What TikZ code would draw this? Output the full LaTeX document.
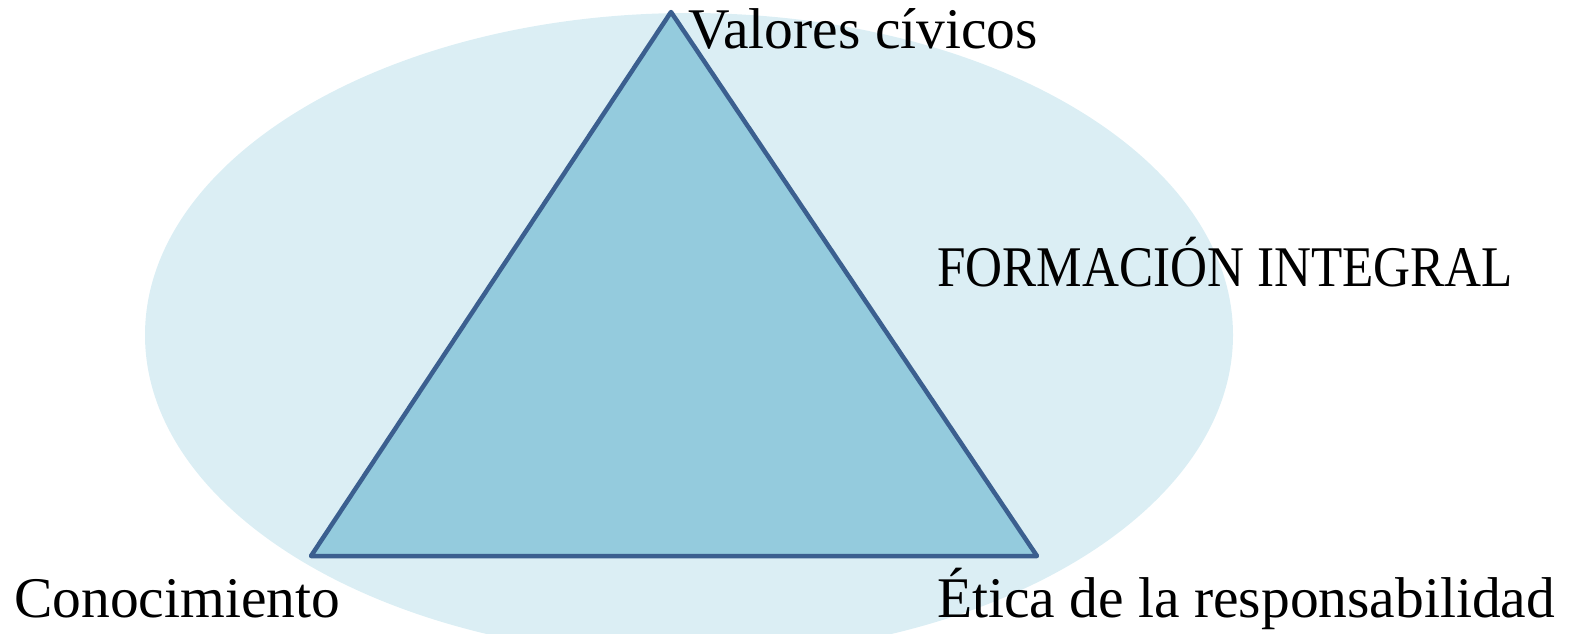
\documentclass[tikz,border=0pt]{standalone}
\usepackage{fontspec}
\setmainfont{Liberation Serif}
\usepackage{graphicx}
\usepackage{xcolor}
\usepackage{tikz}

\definecolor{halo}{HTML}{DBEEF4}
\definecolor{trifill}{HTML}{94CBDD}
\definecolor{triedge}{HTML}{3B5F8F}

\tikzset{
  label text/.style={anchor=base west, inner sep=0pt, font=\fontsize{57.5}{66}\selectfont},
}

\begin{document}
\begin{tikzpicture}[x=1pt, y=-1pt]
          \useasboundingbox (0,0) rectangle (1579,633);
          \fill[halo] (689,335) ellipse [x radius=544, y radius=322];
          \coordinate (top) at (671,12);
          \coordinate (left) at (311,556);
          \coordinate (right) at (1037,556);
          \draw[triedge, line width=4.5pt, fill=trifill, line join=round] (top) -- (left) -- (right) -- cycle;
          \node[label text] (valores) at (688,48) {Valores cívicos};
          \node[label text] (formacion) at (937,286) {\scalebox{0.89}[1]{FORMACIÓN INTEGRAL}};
          \node[label text] (conoc) at (14,617) {Conocimiento};
          \node[label text] (etica) at (937,617) {Ética de la responsabilidad};
        \end{tikzpicture}
\end{document}
